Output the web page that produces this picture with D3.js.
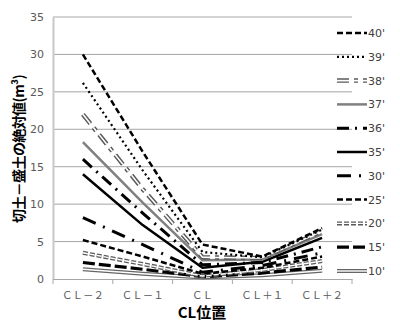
<!DOCTYPE html>
<html><head><meta charset="utf-8">
<script src="https://cdn.jsdelivr.net/npm/d3@7"></script>
<style>body{margin:0;background:#fff}svg{display:block}</style>
</head><body>
<script>
const categories = ["ＣＬ－２","ＣＬ－１","ＣＬ","ＣＬ＋１","ＣＬ＋２"];
const seriesNames = ["40'","39'","38'","37'","36'","35'","30'","25'","20'","15'","10'"];
const s40 = [30.0, 17.0, 4.6, 3.0, 6.8];
const s39 = [26.2, 14.5, 3.6, 2.9, 6.6];
const s38 = [22.0, 12.0, 2.9, 2.8, 6.4];
const s37 = [18.3, 10.2, 2.5, 2.6, 6.0];
const s36 = [16.0, 8.8, 1.9, 2.2, 4.3];
const s35 = [14.0, 7.2, 1.5, 2.3, 5.5];
const s30 = [8.2, 4.6, 0.9, 1.8, 3.5];
const s25 = [5.2, 3.0, 0.7, 1.5, 3.0];
const s20 = [3.5, 2.0, 0.4, 1.2, 2.4];
const s15 = [2.2, 1.3, 0.3, 0.8, 1.6];
const s10 = [1.3, 0.7, 0.2, 0.5, 1.1];
const yTicks = [0,5,10,15,20,25,30,35];
const allSeries = [s40,s39,s38,s37,s36,s35,s30,s25,s20,s15,s10];

const styles = [
  {c:"#000", w:2.5, d:"6,3"},
  {c:"#000", w:2.2, d:"2,3"},
  {c:"#5a5a5a", w:4.5, d:"12,5,4,5", dbl:true},
  {c:"#808080", w:2.5, d:null},
  {c:"#000", w:3, d:"12,6,2,6"},
  {c:"#000", w:2.5, d:null},
  {c:"#000", w:3, d:"14,8,2,8"},
  {c:"#000", w:2.5, d:"6,3"},
  {c:"#5a5a5a", w:4, d:"5,2", dbl:true},
  {c:"#000", w:3.2, d:"12,4"},
  {c:"#666", w:4, d:null, dbl:true}
];

const W=400,H=328;
const svg=d3.select("body").append("svg").attr("width",W).attr("height",H);
const x=d3.scaleBand().domain(categories).range([53,352]);
const y=d3.scaleLinear().domain([0,35]).range([279,17]);

svg.append("g").selectAll("line").data(yTicks.filter(t=>t>0)).join("line")
  .attr("x1",53).attr("x2",352).attr("y1",d=>y(d)).attr("y2",d=>y(d))
  .attr("stroke","#a6a6a6").attr("stroke-width",1);

const ya=svg.append("g").attr("transform","translate(53,0)")
  .call(d3.axisLeft(y).tickValues(yTicks).tickSize(0).tickPadding(9));
ya.select(".domain").attr("stroke","#c8c8c8").attr("stroke-width",2);
ya.selectAll("text").attr("font-family","'DejaVu Sans',sans-serif").attr("font-size",11).attr("fill","#595959");

const xa=svg.append("g").attr("transform","translate(0,279)")
  .call(d3.axisBottom(x).tickSize(0).tickPadding(13));
xa.select(".domain").attr("stroke","#a6a6a6");
xa.selectAll("text").attr("font-family","'Noto Sans CJK JP',sans-serif").attr("font-size",10.5).attr("fill","#595959");
svg.append("g").selectAll("line").data(d3.range(categories.length+1)).join("line")
  .attr("x1",i=>53+i*x.step()).attr("x2",i=>53+i*x.step()).attr("y1",279).attr("y2",284)
  .attr("stroke","#a6a6a6");

const line=d3.line().x((d,i)=>x(categories[i])+x.bandwidth()/2).y(d=>y(d));

function drawPath(g, pathFn, st){
  const p=g.append("path").attr("d",pathFn).attr("fill","none")
    .attr("stroke",st.c).attr("stroke-width",st.w).attr("stroke-linejoin","round");
  if(st.d) p.attr("stroke-dasharray",st.d);
  if(st.dbl){
    const q=g.append("path").attr("d",pathFn).attr("fill","none")
      .attr("stroke","#fff").attr("stroke-width",st.w*0.35).attr("stroke-linejoin","round");
    if(st.d) q.attr("stroke-dasharray",st.d);
  }
}

const lg=svg.append("g");
allSeries.slice().reverse().forEach((s,ri)=>{
  const i=allSeries.length-1-ri;
  drawPath(lg, line(s), styles[i]);
});

const leg=svg.append("g");
seriesNames.forEach((n,i)=>{
  const yy=33+i*23.8;
  drawPath(leg, `M337,${yy}H367`, styles[i]);
  leg.append("text").attr("x",368).attr("y",yy+4).text(n)
    .attr("font-family","'DejaVu Sans',sans-serif").attr("font-size",11).attr("fill","#404040");
});

svg.append("text").attr("x",202).attr("y",318).attr("text-anchor","middle")
  .attr("font-family","'Noto Sans CJK JP',sans-serif").attr("font-weight","bold").attr("font-size",15)
  .attr("fill","#000").text("CL位置");
svg.append("text").attr("transform","translate(24,149) rotate(-90)").attr("text-anchor","middle")
  .attr("font-family","'Noto Sans CJK JP',sans-serif").attr("font-weight","bold").attr("font-size",14)
  .attr("letter-spacing","-0.6").attr("fill","#000").text("切土－盛土の絶対値(m³)");
</script>
</body></html>
